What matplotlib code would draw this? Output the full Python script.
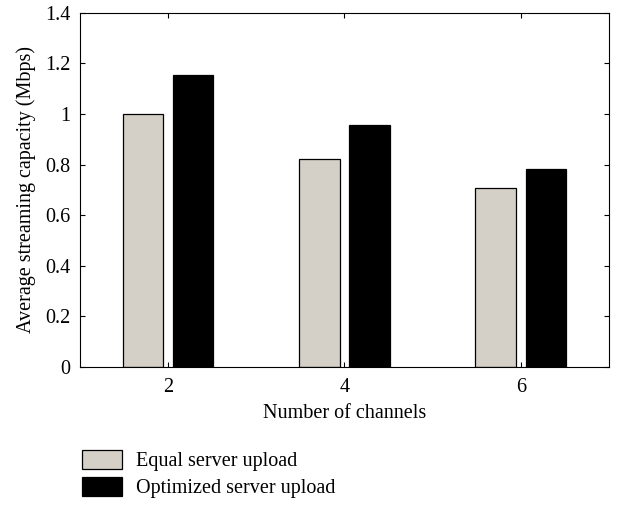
import matplotlib.pyplot as plt
from matplotlib.patches import Patch

channels = [2, 4, 6]
equal_upload = [1.0, 0.82, 0.708]
optimized_upload = [1.155, 0.958, 0.782]
series_labels = ['Equal server upload', 'Optimized server upload']
y_ticks = [0, 0.2, 0.4, 0.6, 0.8, 1, 1.2, 1.4]
y_tick_labels = ['0', '0.2', '0.4', '0.6', '0.8', '1', '1.2', '1.4']

plt.rcParams['font.family'] = ['Liberation Serif', 'DejaVu Serif']
fs = 14.5

fig = plt.figure(figsize=(6.19, 5.05), dpi=100)
ax = fig.add_axes([0.129, 0.273, 0.855, 0.702])

w = 0.46
off = 0.285
gray = '#d4d0c8'
ax.bar([c - off for c in channels], equal_upload, width=w, color=gray,
       edgecolor='black', linewidth=0.9)
ax.bar([c + off for c in channels], optimized_upload, width=w, color='black',
       edgecolor='black', linewidth=0.9)

ax.set_xlim(1, 7)
ax.set_ylim(0, 1.4)
ax.set_xticks(channels)
ax.set_yticks(y_ticks)
ax.set_yticklabels(y_tick_labels)
ax.tick_params(direction='in', top=True, right=True, labelsize=fs,
               length=3.5, width=0.8)
ax.tick_params(axis='x', pad=8)
ax.tick_params(axis='y', pad=7)
for s in ax.spines.values():
    s.set_linewidth(0.8)

ax.set_xlabel('Number of channels', fontsize=fs, labelpad=5)
ax.set_ylabel('Average streaming capacity (Mbps)', fontsize=fs, labelpad=6)

handles = [Patch(facecolor=gray, edgecolor='black', linewidth=0.9),
           Patch(facecolor='black', edgecolor='black', linewidth=0.9)]
fig.legend(handles, series_labels, loc='upper left',
           bbox_to_anchor=(82 / 619, 1 - 450 / 505), frameon=False,
           fontsize=fs, handlelength=2.0, handleheight=1.05,
           labelspacing=0.3, handletextpad=0.7, borderaxespad=0,
           borderpad=0)

fig.savefig('out.png', dpi=100)
